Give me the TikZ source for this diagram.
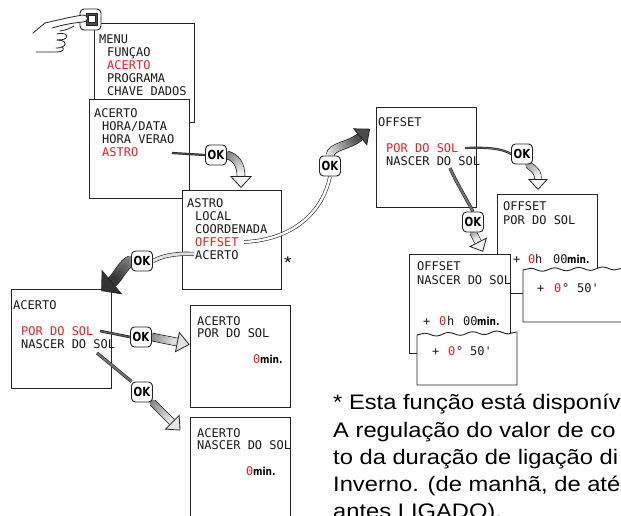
\documentclass[tikz,border=0pt]{standalone}
\usepackage{fontspec}
\usetikzlibrary{arrows.meta,calc,decorations.markings,decorations.pathmorphing}
\newfontfamily\lcdfont{DejaVu Sans Mono}
\newfontfamily\condfont[FakeStretch=0.82]{DejaVu Sans}
\newfontfamily\notefont[FakeStretch=1.13]{Liberation Sans}
\definecolor{lcdred}{RGB}{232,30,40}
\definecolor{frame}{RGB}{35,35,35}

% #1 start, #2 c1, #3 c2, #4 base of head, #5 start grey, #6 end grey, #7 band width, #8 head length, #9 head width
\newcommand\fatarrow[9]{%
  \begin{scope}
    \pgfmathsetmacro\fouterw{#7+1.6}%
    \pgfmathsetmacro\frad{#7/2}%
    \def\fga{#5}\def\fgb{#6}%
    \draw[line width=\fouterw pt, frame] (#1) .. controls (#2) and (#3) .. (#4);
    \path[decorate, decoration={markings, mark=between positions 0 and 1 step 0.02 with {%
      \pgfmathsetmacro\fgm{\fga+(\fgb-\fga)*(\pgfkeysvalueof{/pgf/decoration/mark info/sequence number}-1)/50}%
      \fill[black!\fgm] (0,0) circle (\frad pt);}}]
      (#1) .. controls (#2) and (#3) .. (#4);
    \draw[line width=0.8pt, frame, -{Triangle[length=#8pt, width=#9pt, fill=black!#6]}] (#4) -- ($(#4)!-#8pt!(#3)$);
  \end{scope}}

\tikzset{
 screen/.style={draw=frame, fill=white, line width=0.9pt, anchor=north west, inner sep=0pt, minimum width=100pt, minimum height=99pt},
 lcd/.style={anchor=base west, inner sep=0pt, font=\lcdfont\fontsize{12}{12}\selectfont, text=black!90},
 lcdr/.style={lcd, text=lcdred},
 minl/.style={anchor=base west, inner sep=0pt, font=\condfont\bfseries\fontsize{11}{11}\selectfont},
 okbtn/.style={draw=frame, fill=white, rounded corners=4pt, line width=0.9pt, minimum width=21pt, minimum height=20pt, inner sep=0pt, font=\condfont\bfseries\fontsize{12.5}{12.5}\selectfont},
 feed/.style={draw=frame, line width=0.6pt, double=#1, double distance=1.6pt},
 panel/.style={draw=frame, fill=white, line width=0.9pt},
 note/.style={anchor=base west, inner sep=0pt, font=\notefont\fontsize{21}{21}\selectfont},
 hand/.style={draw=frame, line width=0.8pt, line cap=round, line join=round},
 wavy/.style={decoration={snake, amplitude=1.6pt, segment length=24pt}},
}

\begin{document}
\begin{tikzpicture}[x=1pt,y=-1pt]
\useasboundingbox (0,0) rectangle (621,515);
\clip (0,0) rectangle (621,515);
\fill[white] (0,0) rectangle (621,515);

% ---------- MENU screen
\node[screen] (menu) at (94,23) {};
\node[lcd] (m0) at (99,43.5) {MENU};
\node[lcd] (m1) at (107,56) {FUNÇAO};
\node[lcdr] (m2) at (107,69) {ACERTO};
\node[lcd] (m3) at (107,82) {PROGRAMA};
\node[lcd] (m4) at (107,95) {CHAVE DADOS};

% ---------- button + hand
\node[draw=frame, fill=white, rounded corners=4pt, line width=0.9pt, minimum width=21pt, minimum height=21pt, inner sep=0pt] (btn) at (90.5,19.5) {};
\filldraw[draw=frame, fill=black!70, line width=0.6pt] (86,13) rectangle (97,25);
\filldraw[draw=frame, fill=white, line width=0.5pt] (88,15) rectangle (95,22);
\filldraw[hand, fill=white] (45,23) .. controls (58,20) and (70,17) .. (83,15)
   .. controls (89,15) and (89,22) .. (83,22) .. controls (72,23) and (62,25) .. (52,28);
\draw[hand] (33,33) -- (45,23);
\draw[hand] (60,31) .. controls (66,30) and (71,28) .. (74,26);
\draw[hand] (57,34) .. controls (64,32) and (69,35) .. (66,38) .. controls (64,40) and (60,40) .. (57,40);
\draw[hand] (57,40) .. controls (64,40) and (67,43) .. (64,46) .. controls (62,48) and (59,48) .. (56,48);
\draw[hand] (36,52) -- (57,52) .. controls (63,52) and (65,49) .. (62,47);

% ---------- ACERTO screen
\node[screen] (acerto) at (89,99) {};
\node[lcd] (a0) at (94,117) {ACERTO};
\node[lcd] (a1) at (102,130) {HORA/DATA};
\node[lcd] (a2) at (102,143) {HORA VERAO};
\node[lcdr] (a3) at (102,156) {ASTRO};

% ---------- ASTRO screen
\node[screen, minimum width=99pt] (astro) at (182,190) {};
\node[lcd] (s0) at (187,207) {ASTRO};
\node[lcd] (s1) at (195,220) {LOCAL};
\node[lcd] (s2) at (195,233) {COORDENADA};
\node[lcdr] (s3) at (195,246) {OFFSET};
\node[lcd] (s4) at (195,259) {ACERTO};
\node[anchor=base west, inner sep=0pt, font=\notefont\fontsize{17}{17}\selectfont] (star) at (284,268) {*};

% ---------- OFFSET screen
\node[screen, minimum height=100pt] (offset) at (376,107) {};
\node[lcd] (o0) at (378,126) {OFFSET};
\node[lcdr] (o1) at (386,152) {POR DO SOL};
\node[lcd] (o2) at (386,165) {NASCER DO SOL};

% ---------- OFFSET / POR DO SOL screen
\node[screen] (offpor) at (497,194) {};
\node[lcd] (p0) at (503,210) {OFFSET};
\node[lcd] (p1) at (503,224) {POR DO SOL};
\node[lcd] (p2) at (513,263) {+};
\node[lcdr] (p3) at (528,263) {0};
\node[lcd] (p4) at (535,263) {h};
\node[lcd] (p5) at (553,263) {00};
\node[minl] (p6) at (567,263) {min.};
\filldraw[panel] (523,322) -- (523,270) decorate[wavy] {-- (632,268)} -- (632,322) -- cycle;
\node[lcd] (q1) at (537,292) {+};
\node[lcdr] (q2) at (554,292) {0};
\node[lcd] (q3) at (562,292) {°};
\node[lcd] (q4) at (577,292) {50'};

% ---------- OFFSET / NASCER DO SOL screen
\node[screen, minimum width=101pt] (offnas) at (409,254) {};
\node[lcd] (r0) at (417,270) {OFFSET};
\node[lcd] (r1) at (417,284) {NASCER DO SOL};
\node[lcd] (r2) at (423,325) {+};
\node[lcdr] (r3) at (439,325) {0};
\node[lcd] (r4) at (447,325) {h};
\node[lcd] (r5) at (463,325) {00};
\node[minl] (r6) at (477,325) {min.};
\filldraw[panel] (417,385) -- (417,335) decorate[wavy] {-- (517,332)} -- (517,385) -- cycle;
\node[lcd] (u1) at (432,355) {+};
\node[lcdr] (u2) at (448,355) {0};
\node[lcd] (u3) at (456,355) {°};
\node[lcd] (u4) at (470,355) {50'};

% ---------- left ACERTO screen
\node[screen] (acl) at (11,289) {};
\node[lcd] (l0) at (13,309) {ACERTO};
\node[lcdr] (l1) at (21,335) {POR DO SOL};
\node[lcd] (l2) at (21,348) {NASCER DO SOL};

% ---------- ACERTO / POR DO SOL
\node[screen, minimum height=102pt] (acpor) at (190,305) {};
\node[lcd] (c0) at (197,325) {ACERTO};
\node[lcd] (c1) at (197,337) {POR DO SOL};
\node[lcdr] (c2) at (253,363) {0};
\node[minl] (c3) at (260,363) {min.};

% ---------- ACERTO / NASCER DO SOL
\node[screen, minimum height=120pt] (acnas) at (190,417) {};
\node[lcd] (d0) at (197,437) {ACERTO};
\node[lcd] (d1) at (197,449) {NASCER DO SOL};
\node[lcdr] (d2) at (246,475) {0};
\node[minl] (d3) at (253,475) {min.};

% ---------- OK buttons (positions)
\coordinate (ok1c) at (216,155);
\coordinate (ok2c) at (330,166);
\coordinate (ok3c) at (522,154);
\coordinate (ok4c) at (473,222);
\coordinate (ok5c) at (142,261);
\coordinate (ok6c) at (141,337);
\coordinate (ok7c) at (142,392);
\node[okbtn, draw=none, fill=none] (ok1) at (ok1c) {};
\node[okbtn, draw=none, fill=none] (ok2) at (ok2c) {};
\node[okbtn, draw=none, fill=none] (ok3) at (ok3c) {};
\node[okbtn, draw=none, fill=none] (ok4) at (ok4c) {};
\node[okbtn, draw=none, fill=none] (ok5) at (ok5c) {};
\node[okbtn, draw=none, fill=none] (ok6) at (ok6c) {};
\node[okbtn, draw=none, fill=none] (ok7) at (ok7c) {};

% ---------- feed lines (item -> OK)
\coordinate (f1s) at (172,153);
\coordinate (f2s) at (244,242);
\coordinate (f3s) at (194,254);
\coordinate (f4s) at (465,148);
\coordinate (f5s) at (450,168);
\coordinate (f6s) at (100,331);
\coordinate (f7s) at (97,353);
\draw[feed=black!70, double distance=1pt] (f1s) -- (ok1.west);
\draw[feed=white, double distance=2.4pt] (f2s) .. controls (290,240) and (322,215) .. (ok2.south);
\draw[feed=black!12, double distance=3pt] (f3s) .. controls (175,253) and (162,256) .. (ok5.east);
\draw[feed=black!60, double distance=1pt] (f4s) .. controls (490,147) and (503,149) .. (ok3.west);
\draw[feed=black!55, double distance=2pt] (f5s) .. controls (456,182) and (466,198) .. (ok4.north);
\draw[feed=black!65, double distance=1.4pt] (f6s) -- (ok6.west);
\draw[feed=black!55, double distance=2pt] (f7s) -- (ok7.135);

% ---------- fat arrows (OK -> next screen)
\fatarrow{ok1.east}{236,157}{241,165}{241,176}{55}{5}{7}{12}{22}
\fatarrow{ok2.north}{331,146}{349,146}{360,137}{5}{70}{7}{13}{22}
\fatarrow{ok3.-60}{535,170}{538,172}{538,179}{40}{5}{6}{11}{20}
\fatarrow{ok4.south}{474.7,235.3}{476.3,238.7}{478,242}{45}{5}{6}{11}{20}
\fatarrow{ok5.west}{124,263}{118,277}{112,282}{45}{80}{10}{14}{32}
\fatarrow{ok6.east}{160,338.7}{168.5,340.3}{177,342}{50}{12}{7}{13}{21}
\fatarrow{ok7.-45}{158.7,408.7}{165.3,415.3}{172,422}{50}{10}{6}{12}{21}

% ---------- OK buttons drawn on top
\foreach \k in {1,...,7} {\node[okbtn] at (ok\k c) {OK};}

% ---------- footnote
\node[note] (n1) at (333,409) {* Esta função está disponív};
\node[note] (n2) at (333,437) {A regulação do valor de co};
\node[note] (n3) at (333,464) {to da duração de ligação di};
\node[note] (n4) at (333,491) {Inverno. (de manhã, de até};
\node[note] (n5) at (333,518) {antes LIGADO).};
\end{tikzpicture}
\end{document}
